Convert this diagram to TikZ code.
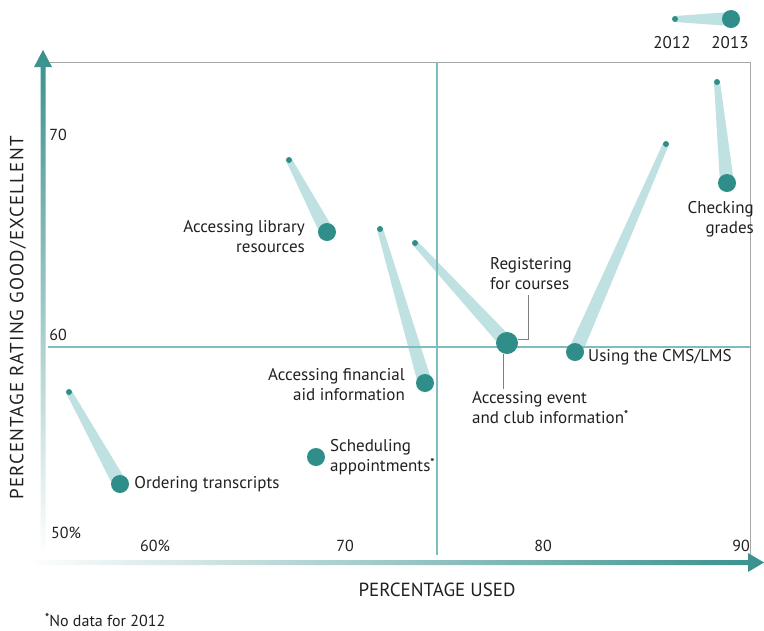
\documentclass[tikz,border=0pt]{standalone}
\usepackage{fontspec}
\setmainfont{PT Sans}
\newfontfamily\axisfont[LetterSpace=6]{PT Sans}
\usetikzlibrary{positioning}
\usetikzlibrary{calc}
\usetikzlibrary{backgrounds}
\definecolor{tealdark}{HTML}{2F8E8A}
\definecolor{teallight}{HTML}{BFE1E1}
\definecolor{tealline}{HTML}{7DBDBD}
\definecolor{tealaxis}{HTML}{38908D}
\definecolor{framegray}{HTML}{A6A6A6}
\definecolor{inkc}{HTML}{231F20}
\tikzstyle{dotnew} = [circle, fill=tealdark, minimum size=18pt, inner sep=0pt]
\tikzstyle{dotold} = [circle, fill=tealdark, minimum size=6pt, inner sep=0pt]
\tikzstyle{lbl} = [text=inkc, font=\fontsize{17}{20}\selectfont, inner sep=0pt]
\tikzstyle{ticklbl} = [text=inkc, font=\fontsize{16}{18}\selectfont, inner sep=0pt]
\tikzstyle{axislbl} = [text=inkc, font=\fontsize{19}{21}\selectfont, inner sep=0pt]
\tikzstyle{leader} = [draw=gray, line width=1pt]
\tikzstyle{cross} = [draw=tealline, line width=1.2pt]
\newcommand{\trail}[2]{\fill[teallight] ($(#1)!3pt!90:(#2)$) -- ($(#1)!3pt!-90:(#2)$) -- ($(#2)!7pt!90:(#1)$) -- ($(#2)!7pt!-90:(#1)$) -- cycle;}
\newcommand{\nodata}{\raisebox{0.3em}{\fontsize{11}{11}\selectfont\bfseries *}}

\begin{document}
\begin{tikzpicture}[x=1pt, y=-1pt]
    \useasboundingbox (0,0) rectangle (764,630);

    % frame and quadrants
    \draw[framegray, line width=1pt] (48,62) -- (750,62) -- (750,555);
    \draw[cross] (437,62) -- (437,555);
    \draw[cross] (48,347) -- (750,347);

    % axes
    \shade[bottom color=white, top color=tealaxis]
       (40.5,556) -- (40.5,67) -- (34,67) -- (43,50) -- (52,67) -- (45.5,67) -- (45.5,556) -- cycle;
    \shade[left color=white, right color=tealaxis]
       (26,560) -- (748,560) -- (748,553) -- (764,562.5) -- (748,572) -- (748,565) -- (26,565) -- cycle;

    % tick labels
    \node[ticklbl] (y70) at (58,135) {70};
    \node[ticklbl] (y60) at (58,335) {60};
    \node[ticklbl] (x50) at (66,533) {50\%};
    \node[ticklbl] (x60) at (155,546) {60\%};
    \node[ticklbl] (x70) at (345,546) {70};
    \node[ticklbl] (x80) at (543,546) {80};
    \node[ticklbl] (x90) at (741,546) {90};

    \node[axislbl, font=\fontsize{19}{21}\axisfont, rotate=90] (ylbl) at (18,318) {PERCENTAGE RATING GOOD/EXCELLENT};
    \node[axislbl] (xlbl) at (437,590) {PERCENTAGE USED};
    \node[ticklbl, anchor=west] (note) at (45,620) {\nodata No data for 2012};

    % legend
    \node[dotold] (leg12) at (675,19) {};
    \node[dotnew] (leg13) at (731,19) {};
    \node[lbl] (leg12l) at (672,43) {2012};
    \node[lbl] (leg13l) at (730,43) {2013};

    % data points
    \node[dotold] (ot12) at (69,392) {};
    \node[dotnew] (ot13) at (120,484) {};
    \node[dotnew] (sa13) at (316,457) {};
    \node[dotold] (lib12) at (289,160) {};
    \node[dotnew] (lib13) at (327,232) {};
    \node[dotold] (fa12) at (380,229) {};
    \node[dotnew] (fa13) at (425,383) {};
    \node[dotold] (reg12) at (415,243) {};
    \node[dotnew, minimum size=22pt] (reg13) at (507,343) {};
    \node[dotold] (cms12) at (666,144) {};
    \node[dotnew] (cms13) at (575,352) {};
    \node[dotold] (cg12) at (717,82) {};
    \node[dotnew] (cg13) at (727,183) {};

    \begin{pgfonlayer}{background}
    \trail{leg12}{leg13}
    \trail{ot12}{ot13}
    \trail{lib12}{lib13}
    \trail{fa12}{fa13}
    \trail{reg12}{reg13}
    \trail{cms12}{cms13}
    \trail{cg12}{cg13}
    \end{pgfonlayer}

    % labels
    \node[lbl, right=5pt of ot13] (otlbl) {Ordering transcripts};
    \node[lbl, anchor=west, align=left] (salbl) at (330,457) {Scheduling\\appointments\nodata};
    \node[lbl, anchor=east, align=right] (liblbl) at (305,237) {Accessing library\\resources};
    \node[lbl, anchor=east, align=right] (falbl) at (405,385) {Accessing financial\\aid information};
    \node[lbl, anchor=west, align=left] (reglbl) at (490,274) {Registering\\for courses};
    \node[lbl, anchor=west, align=left] (evlbl) at (472,408) {Accessing event\\and club information\nodata};
    \node[lbl, anchor=west] (cmslbl) at (588,357) {Using the CMS/LMS};
    \node[lbl, anchor=east, align=right] (cglbl) at (754,219) {Checking\\grades};

    \coordinate (regbend) at (528,339);
    \draw[leader] ([yshift=-5pt]reglbl.south -| regbend) -- (regbend) -- (regbend -| reg13.east);
    \draw[leader] ([xshift=-4pt]reg13.south) -- ([xshift=-4pt, yshift=3pt]reg13.south |- evlbl.north);
\end{tikzpicture}
\end{document}
